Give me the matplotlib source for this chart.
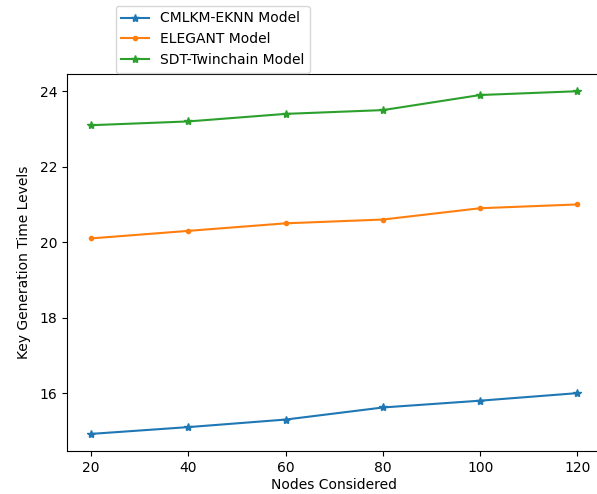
import matplotlib
matplotlib.use("Agg")
import matplotlib.pyplot as plt

# Data
nodes = [20, 40, 60, 80, 100, 120]
cmlkm_eknn = [14.92, 15.1, 15.3, 15.62, 15.8, 16.0]
elegant = [20.1, 20.3, 20.5, 20.6, 20.9, 21.0]
sdt_twinchain = [23.1, 23.2, 23.4, 23.5, 23.9, 24.0]

fig = plt.figure(figsize=(5.97, 4.94), dpi=100)
ax = fig.add_axes([0.112, 0.087, 0.896, 0.763])

ax.plot(nodes, cmlkm_eknn, marker='*', label='CMLKM-EKNN Model')
ax.plot(nodes, elegant, marker='.', label='ELEGANT Model')
ax.plot(nodes, sdt_twinchain, marker='*', label='SDT-Twinchain Model')

ax.set_xlabel('Nodes Considered', labelpad=2)
ax.set_ylabel('Key Generation Time Levels', labelpad=6)
ax.legend(loc='lower left', bbox_to_anchor=(0.078, 0.985))

fig.savefig('out.png', dpi=100)
